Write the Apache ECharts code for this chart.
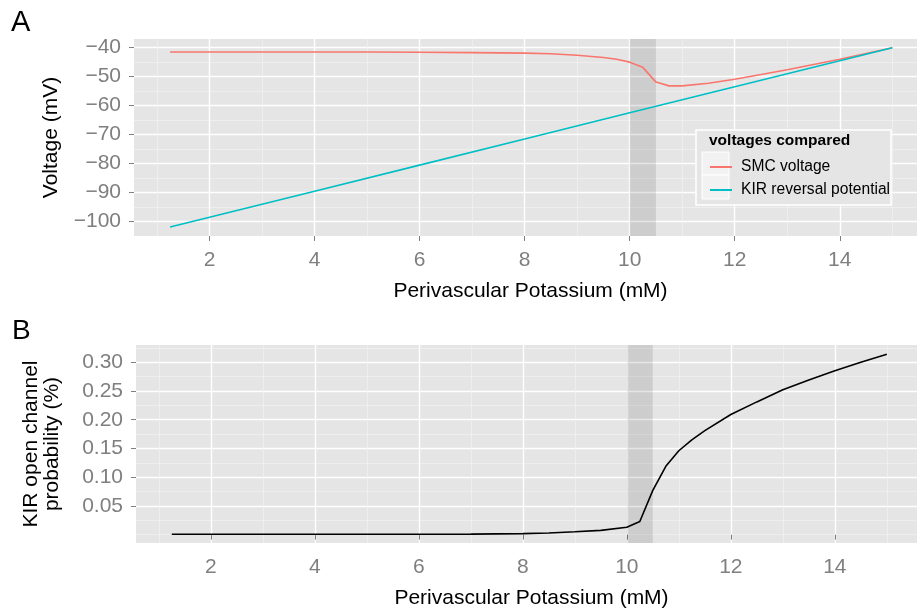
<!DOCTYPE html>
<html>
<head>
<meta charset="utf-8">
<script src="https://cdn.jsdelivr.net/npm/echarts@6/dist/echarts.min.js"></script>
<style>
html, body { margin: 0; padding: 0; background: #fff; }
#chart { width: 917px; height: 611px; }
</style>
</head>
<body>
<div id="chart"></div>
<script>
// panel A: SMC voltage and KIR reversal potential vs perivascular K+
const smcK = [1.25, 2, 3, 4, 5, 6, 7, 8, 8.5, 9, 9.5, 9.75, 10, 10.25, 10.5, 10.75, 11, 11.5, 12, 12.5, 13, 13.5, 14, 14.5, 15];
const smcVoltage = [-41.5, -41.5, -41.5, -41.5, -41.5, -41.6, -41.7, -41.9, -42.1, -42.6, -43.4, -44.0, -45.0, -46.8, -51.9, -53.2, -53.2, -52.3, -50.9, -49.3, -47.6, -45.8, -44.0, -42.0, -40.0];
const kirK = [1.25, 4, 6, 8, 10, 12, 14, 15];
const kirReversal = [-102.0, -89.6, -80.6, -71.6, -62.5, -53.5, -44.5, -40.0];

// panel B: KIR open channel probability
const probK = [1.25, 2, 4, 6, 7, 8, 8.5, 9, 9.5, 10, 10.25, 10.5, 10.75, 11, 11.25, 11.5, 12, 12.5, 13, 13.5, 14, 14.5, 15];
const openProb = [0.0007, 0.0007, 0.0007, 0.0007, 0.0009, 0.0018, 0.003, 0.005, 0.0075, 0.013, 0.023, 0.077, 0.119, 0.146, 0.165, 0.181, 0.209, 0.231, 0.252, 0.269, 0.285, 0.300, 0.314];

// ticks
const kTicks = [2, 4, 6, 8, 10, 12, 14];
const kMinor = [1, 3, 5, 7, 9, 11, 13, 15];
const voltTicks = [-100, -90, -80, -70, -60, -50, -40];
const voltMinor = [-95, -85, -75, -65, -55, -45];
const probTicks = [0.05, 0.10, 0.15, 0.20, 0.25, 0.30];
const probMinor = [0, 0.025, 0.075, 0.125, 0.175, 0.225, 0.275, 0.325];
const shadeK = [10, 10.5];

const FONT = 'Liberation Sans, Arial, Helvetica, sans-serif';
const chart = echarts.init(document.getElementById('chart'));

const majorAxis = (gridIndex, min, max, ticks, extra) => Object.assign({
	type: 'value', gridIndex, min, max,
	axisLine: { show: false },
	axisTick: { show: true, length: 5, customValues: ticks, lineStyle: { color: '#7F7F7F', width: 1 } },
	axisLabel: { customValues: ticks, color: '#7F7F7F', fontSize: 21, fontFamily: FONT },
	splitLine: { show: true, lineStyle: { color: '#FFFFFF', width: 1.4 } },
	nameTextStyle: { color: '#000', fontSize: 21, fontFamily: FONT }
}, extra)

const minorAxis = (gridIndex, min, max, ticks) => ({
	type: 'value', gridIndex, min, max,
	axisLine: { show: false },
	axisTick: { show: false, customValues: ticks },
	axisLabel: { show: false, customValues: ticks },
	splitLine: { show: true, lineStyle: { color: '#F2F2F2', width: 0.7 } }
})

const minus = v => v < 0 ? '\u2212' + Math.abs(v) : String(v)

const shade = {
	silent: true,
	itemStyle: { color: 'rgba(0,0,0,0.1)' },
	data: [[{ xAxis: shadeK[0] }, { xAxis: shadeK[1] }]]
}

const xName = {
	name: 'Perivascular Potassium (mM)', nameLocation: 'middle', nameGap: 45,
	axisLabel: { customValues: kTicks, color: '#7F7F7F', fontSize: 21, fontFamily: FONT, margin: 14 },
	nameTextStyle: { color: '#000', fontSize: 21, fontFamily: FONT, padding: [0, 0, 0, 10] }
}

const option = {
	animation: false,
	grid: [
		{ left: 134, right: 0, top: 39, height: 197, show: true, backgroundColor: '#E5E5E5', borderWidth: 0 },
		{ left: 136, right: 0, top: 345, height: 198, show: true, backgroundColor: '#E5E5E5', borderWidth: 0 }
	],
	xAxis: [
		majorAxis(0, 0.5625, 15.47, kTicks, xName),
		minorAxis(0, 0.5625, 15.47, kMinor),
		majorAxis(1, 0.5625, 15.58, kTicks, xName),
		minorAxis(1, 0.5625, 15.58, kMinor)
	],
	yAxis: [
		majorAxis(0, -105.1, -37, voltTicks, {
			name: 'Voltage (mV)', nameLocation: 'middle', nameGap: 72,
			axisLabel: { customValues: voltTicks, color: '#7F7F7F', fontSize: 21, fontFamily: FONT, margin: 13, formatter: minus }
		}),
		minorAxis(0, -105.1, -37, voltMinor),
		majorAxis(1, -0.0145, 0.33, probTicks, {
			name: 'KIR open channel\nprobability (%)', nameLocation: 'middle', nameGap: 73,
			axisLabel: { customValues: probTicks, color: '#7F7F7F', fontSize: 21, fontFamily: FONT, margin: 13, formatter: v => v.toFixed(2) },
			nameTextStyle: { color: '#000', fontSize: 21, fontFamily: FONT, lineHeight: 21 }
		}),
		minorAxis(1, -0.0145, 0.33, probMinor)
	],
	legend: {
		data: ['SMC voltage', 'KIR reversal potential'],
		orient: 'vertical', left: 705, top: 154, itemGap: 7,
		icon: 'rect', itemWidth: 22, itemHeight: 2,
		textStyle: { color: '#000', fontSize: 15.6, fontFamily: FONT, padding: [0, 0, 0, 4] },
		z: 20
	},
	graphic: [
		{ type: 'text', left: 11, top: 8, z: 20, style: { text: 'A', font: '29px ' + FONT, fill: '#000' } },
		{ type: 'text', left: 12, top: 317, z: 20, style: { text: 'B', font: '28px ' + FONT, fill: '#000' } },
		{ type: 'rect', shape: { x: 696, y: 130, width: 195, height: 75 }, z: 10, style: { fill: '#E5E5E5', stroke: '#FFFFFF', lineWidth: 1.5 } },
		{ type: 'rect', shape: { x: 702, y: 152, width: 27, height: 23 }, z: 11, style: { fill: '#F2F2F2', stroke: '#FFFFFF', lineWidth: 1 } },
		{ type: 'rect', shape: { x: 702, y: 175, width: 27, height: 24 }, z: 11, style: { fill: '#F2F2F2', stroke: '#FFFFFF', lineWidth: 1 } },
		{ type: 'text', x: 709, y: 141, z: 20, style: { text: 'voltages compared', font: 'bold 15.5px ' + FONT, fill: '#000', verticalAlign: 'middle' } }
	],
	series: [
		{
			name: 'SMC voltage', type: 'line', xAxisIndex: 0, yAxisIndex: 0,
			data: smcK.map((k, i) => [k, smcVoltage[i]]),
			showSymbol: false, color: '#F8766D', lineStyle: { width: 1.6 },
			markArea: shade
		},
		{
			name: 'KIR reversal potential', type: 'line', xAxisIndex: 0, yAxisIndex: 0,
			data: kirK.map((k, i) => [k, kirReversal[i]]),
			showSymbol: false, color: '#00BFC4', lineStyle: { width: 1.6 }
		},
		{
			name: 'open probability', type: 'line', xAxisIndex: 2, yAxisIndex: 2,
			data: probK.map((k, i) => [k, openProb[i]]),
			showSymbol: false, color: '#000000', lineStyle: { width: 1.6 },
			markArea: shade
		}
	]
};
chart.setOption(option);
</script>
</body>
</html>
